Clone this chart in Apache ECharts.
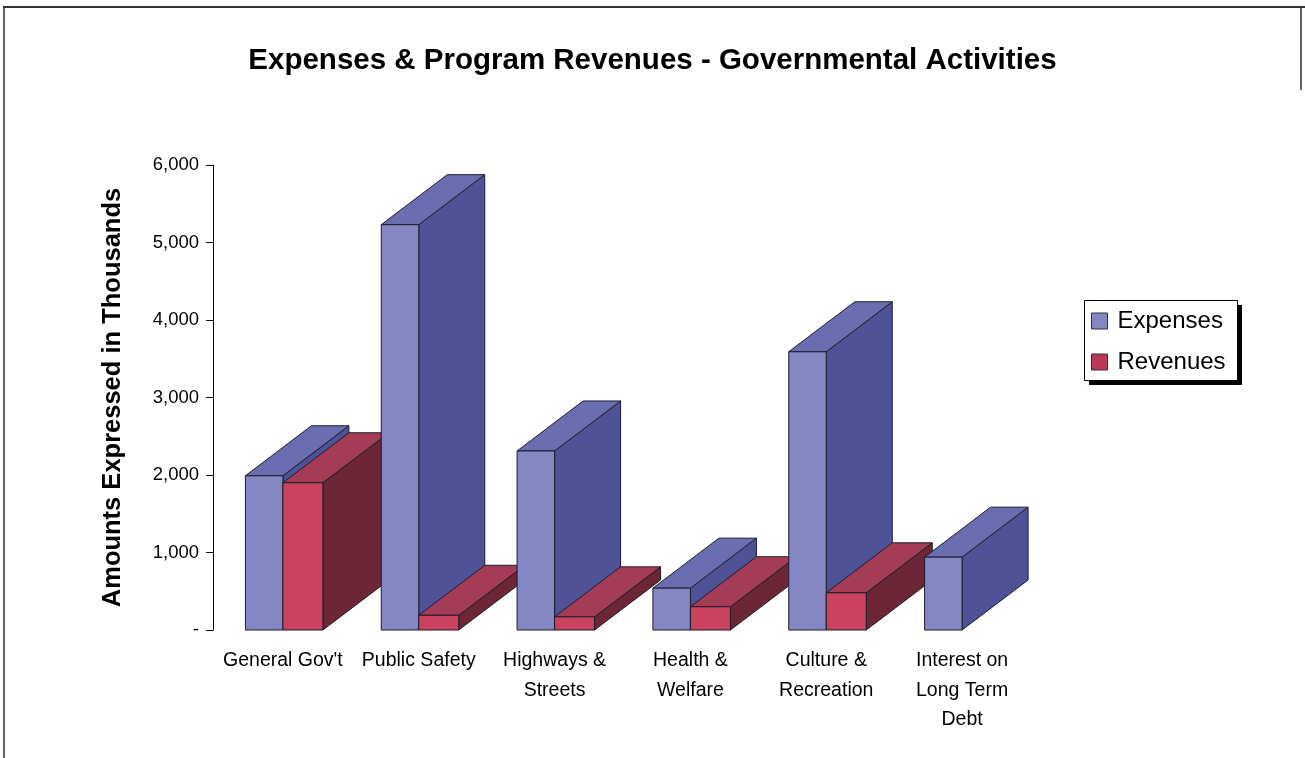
<!DOCTYPE html>
<html>
<head>
<meta charset="utf-8">
<script src="https://cdn.jsdelivr.net/npm/echarts@6/dist/echarts.min.js"></script>
<style>
html,body{margin:0;padding:0;background:#fff;}
#chart{width:1305px;height:758px;}
</style>
</head>
<body>
<div id="chart"></div>
<script>
const categories = ["General Gov't", "Public Safety", "Highways &\nStreets", "Health &\nWelfare", "Culture &\nRecreation", "Interest on\nLong Term\nDebt"];
const seriesNames = ["Expenses", "Revenues"];
const expenses = [1990, 5230, 2310, 540, 3590, 940];
const revenues = [1900, 190, 170, 300, 480, null];
const yMin = 0, yMax = 6000, yStep = 1000;

const FONT = "'Liberation Sans', Arial, sans-serif";
const DX = 66, DY = -50;
const palette = [
  {front: '#8487c2', top: '#6a6db0', side: '#4f5296'},
  {front: '#c9435f', top: '#a53c56', side: '#6c2636'}
];

function makeRender(s) {
  return function (params, api) {
    const i = api.value(0);
    const v = api.value(1);
    if (v == null || isNaN(v)) return null;
    const base = api.coord([i, 0]);
    const topPt = api.coord([i, v]);
    const c = base[0];
    const yb = base[1];
    const yt = topPt[1];
    const x0 = s === 0 ? c - 37.5 : c;
    const x1 = s === 0 ? c : c + 40;
    const col = palette[s];
    const stroke = '#1c1c2c';
    const zb = i * 10 + s * 4;
    return {
      type: 'group',
      children: [
        {type: 'polygon', z2: zb + 1, shape: {points: [[x1, yt], [x1 + DX, yt + DY], [x1 + DX, yb + DY], [x1, yb]]}, style: {fill: col.side, stroke: stroke, lineWidth: 1}},
        {type: 'polygon', z2: zb + 2, shape: {points: [[x0, yt], [x0 + DX, yt + DY], [x1 + DX, yt + DY], [x1, yt]]}, style: {fill: col.top, stroke: stroke, lineWidth: 1}},
        {type: 'polygon', z2: zb + 3, shape: {points: [[x0, yt], [x1, yt], [x1, yb], [x0, yb]]}, style: {fill: col.front, stroke: stroke, lineWidth: 1}}
      ]
    };
  };
}

const chart = echarts.init(document.getElementById('chart'), null, {renderer: 'canvas'});
chart.setOption({
  backgroundColor: '#ffffff',
  animation: false,
  title: {
    text: 'Expenses & Program Revenues - Governmental Activities',
    left: 'center',
    top: 41,
    textStyle: {fontFamily: FONT, fontSize: 29.5, fontWeight: 'bold', color: '#000'}
  },
  legend: {
    orient: 'vertical',
    left: 1084,
    top: 300,
    data: [
      {name: seriesNames[0], icon: 'rect', itemStyle: {color: palette[0].front, borderColor: '#333', borderWidth: 1}},
      {name: seriesNames[1], icon: 'rect', itemStyle: {color: '#b83a58', borderColor: '#333', borderWidth: 1}}
    ],
    itemWidth: 16,
    itemHeight: 16,
    itemGap: 17,
    padding: [9, 9, 7, 7],
    textStyle: {fontFamily: FONT, fontSize: 24, color: '#000', padding: [0, 0, 0, 5]}
  },
  grid: {left: 215, width: 815, top: 165, bottom: 128, containLabel: false},
  xAxis: {
    type: 'category',
    data: categories,
    axisLine: {show: false},
    axisTick: {show: false},
    axisLabel: {fontFamily: FONT, fontSize: 19.5, color: '#000', lineHeight: 29.5, margin: 16, interval: 0}
  },
  yAxis: {
    type: 'value',
    min: yMin,
    max: yMax,
    interval: yStep,
    offset: 2,
    name: 'Amounts Expressed in Thousands',
    nameLocation: 'middle',
    nameGap: 87,
    nameTextStyle: {fontFamily: FONT, fontSize: 25.5, fontWeight: 'bold', color: '#000'},
    axisLine: {show: true, lineStyle: {color: '#000', width: 1}},
    axisTick: {show: true, length: 7, lineStyle: {color: '#000'}},
    splitLine: {show: false},
    axisLabel: {
      fontFamily: FONT, fontSize: 18.5, color: '#000', margin: 14,
      formatter: function (v) { return v === 0 ? '-' : v.toLocaleString('en-US'); }
    }
  },
  graphic: [
    {type: 'line', shape: {x1: 3, y1: 7, x2: 1305, y2: 7}, style: {stroke: '#333', lineWidth: 2}},
    {type: 'line', shape: {x1: 4, y1: 7, x2: 4, y2: 758}, style: {stroke: '#333', lineWidth: 1.5}},
    {type: 'line', shape: {x1: 1301, y1: 7, x2: 1301, y2: 90}, style: {stroke: '#333', lineWidth: 1.5}},
    {type: 'rect', shape: {x: 1089, y: 305, width: 153, height: 80}, style: {fill: '#000'}},
    {type: 'rect', shape: {x: 1084.5, y: 300.5, width: 153, height: 80}, style: {fill: '#fff', stroke: '#000', lineWidth: 1}}
  ],
  series: [
    {name: seriesNames[0], type: 'custom', renderItem: makeRender(0), itemStyle: {color: palette[0].front},
     encode: {x: 0, y: 1}, data: expenses.map(function (v, i) { return [i, v]; })},
    {name: seriesNames[1], type: 'custom', renderItem: makeRender(1), itemStyle: {color: '#b83a58'},
     encode: {x: 0, y: 1}, data: revenues.map(function (v, i) { return [i, v == null ? NaN : v]; })}
  ]
});
</script>
</body>
</html>
